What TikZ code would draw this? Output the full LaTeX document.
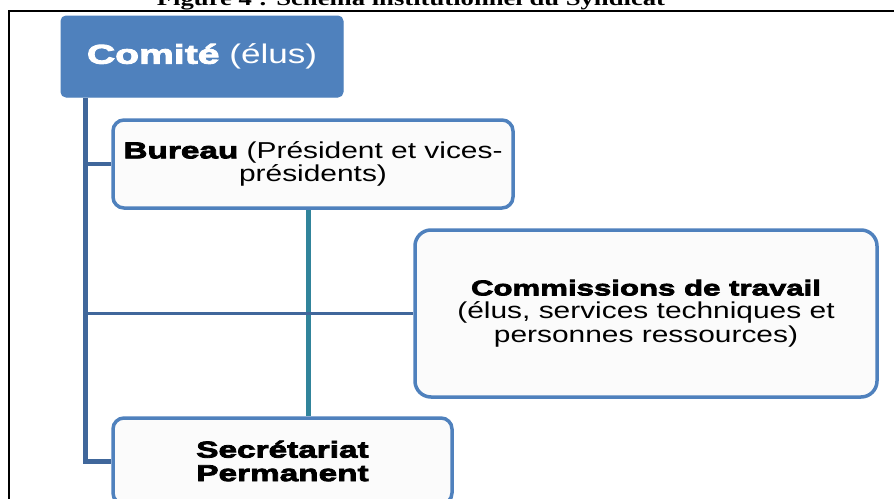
\documentclass[tikz,border=0pt]{standalone}
\usepackage{fontspec}
\newfontfamily\regf{Liberation Sans}[FakeStretch=1.3]
\newfontfamily\blkf{Liberation Sans Bold}[FakeStretch=1.45,FakeBold=3.5]
\newfontfamily\ttlf{Liberation Serif Bold}[FakeStretch=1.3]
\definecolor{boxblue}{HTML}{4F81BD}
\definecolor{connblue}{HTML}{40679B}
\definecolor{tealc}{HTML}{31849B}
\definecolor{boxfill}{HTML}{FBFBFB}
\tikzset{
  orgbox/.style={draw=boxblue, line width=3.5pt, fill=boxfill, align=center,
    inner sep=0pt, font=\regf\fontsize{23}{23.5}\selectfont},
  conn/.style={draw=connblue, line width=3.5pt},
  spine/.style={draw=connblue, line width=5pt},
  tealline/.style={draw=tealc, line width=5pt},
}
\begin{document}
\begin{tikzpicture}[x=1pt,y=-1pt]
\useasboundingbox (0,0) rectangle (894,498);
\clip (0,0) rectangle (894,498);
\fill[white] (0,0) rectangle (894,498);
% frame
\draw[line width=2.5pt] (9,500) -- (9,11) -- (896,11);
% title (cut off at top, as in the reference)
\node[anchor=base, inner sep=0pt, font=\ttlf\fontsize{20.5}{22}\selectfont] (title) at (411,5) {Figure 4 : Schéma institutionnel du Syndicat};
% boxes
\node[draw=boxblue, fill=boxblue, line width=1pt, rounded corners=5pt, minimum width=282pt, minimum height=81pt, inner sep=0pt,
  text=white, font=\regf\fontsize{27}{29}\selectfont] (comite) at (202,56.5) {{\blkf Comité} (élus)};
\node[orgbox, rounded corners=11pt, minimum width=400pt, minimum height=88pt] (bureau) at (313,164)
  {{\blkf Bureau} (Président et vices-\\présidents)};
\node[orgbox, rounded corners=16pt, minimum width=462pt, minimum height=167pt] (comm) at (646,313.5)
  {{\blkf\fontsize{21.5}{23.5}\selectfont Commissions de travail}\\(élus, services techniques et\\personnes ressources)};
\node[orgbox, rounded corners=11pt, minimum width=339pt, minimum height=86pt, font=\blkf\fontsize{23}{23.5}\selectfont] (secr) at (282.5,461)
  {Secrétariat\\Permanent};
% connectors
\coordinate (sp) at (85.5,0);
\coordinate (tx) at (308,0);
\draw[tealline] (bureau.south -| tx) -- (secr.north -| tx);
\draw[spine] (comite.south -| sp) |- (secr.west);
\draw[conn] (sp |- bureau.west) -- (bureau.west);
\draw[conn] (sp |- comm.west) -- (comm.west);
\end{tikzpicture}
\end{document}
